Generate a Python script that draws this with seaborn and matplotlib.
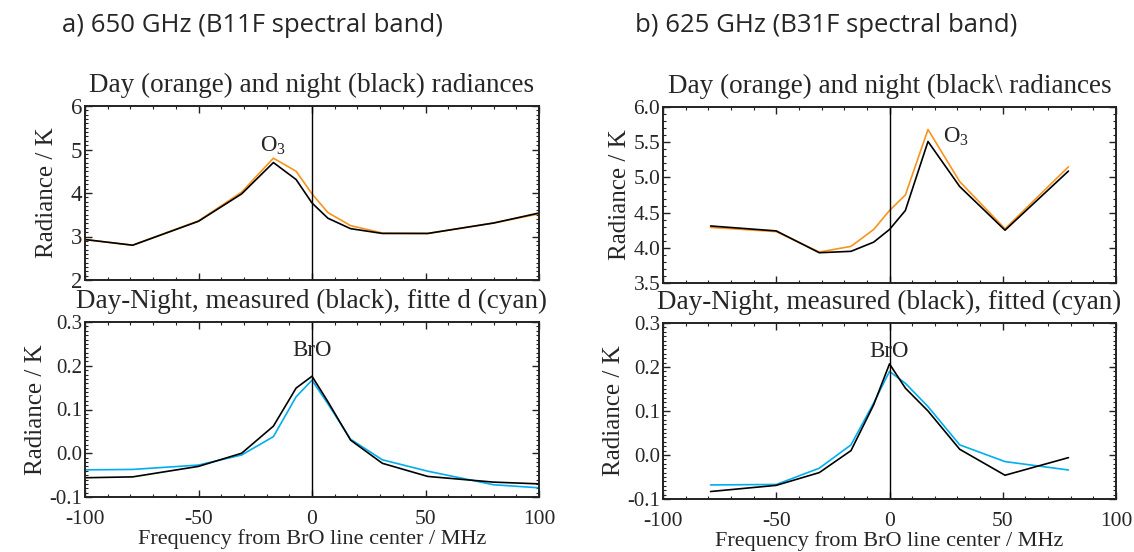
import numpy as np
import pandas as pd
import matplotlib
matplotlib.use("Agg")
import matplotlib.pyplot as plt
import seaborn as sns
from matplotlib.ticker import MultipleLocator, FormatStrFormatter

sns.set_style("ticks")
plt.rcParams['font.family'] = ['Liberation Serif', 'DejaVu Serif']
plt.rcParams['axes.unicode_minus'] = False
plt.rcParams['mathtext.fontset'] = 'custom'
plt.rcParams['mathtext.rm'] = 'Liberation Serif'

# frequency grids (MHz from BrO line centre)
freq_a = [-100, -79, -50, -31, -17, -7, 0, 7, 17, 31, 51, 80, 100]
freq_b = [-79, -50, -31, -17, -7, 0, 7, 17, 31, 51, 79]

# a) 650 GHz, B11F
day_a = [2.93, 2.80, 3.36, 4.02, 4.80, 4.50, 3.98, 3.55, 3.25, 3.08, 3.07, 3.31, 3.52]
night_a = [2.93, 2.80, 3.35, 3.98, 4.70, 4.31, 3.77, 3.42, 3.18, 3.07, 3.07, 3.31, 3.54]
meas_a = [-0.056, -0.054, -0.030, 0.0, 0.062, 0.149, 0.176, 0.118, 0.030, -0.023, -0.053, -0.066, -0.070]
fit_a = [-0.038, -0.037, -0.027, -0.004, 0.038, 0.129, 0.167, 0.113, 0.032, -0.015, -0.041, -0.072, -0.079]

# b) 625 GHz, B31F
day_b = [4.29, 4.23, 3.94, 4.02, 4.26, 4.53, 4.75, 5.68, 4.94, 4.27, 5.15]
night_b = [4.31, 4.24, 3.93, 3.95, 4.08, 4.26, 4.53, 5.51, 4.87, 4.25, 5.09]
meas_b = [-0.083, -0.069, -0.040, 0.010, 0.114, 0.207, 0.152, 0.100, 0.013, -0.046, -0.006]
fit_b = [-0.068, -0.067, -0.030, 0.023, 0.118, 0.190, 0.163, 0.110, 0.023, -0.015, -0.034]

ORANGE = '#f7941d'
CYAN = '#00aeef'

W, H = 1134, 552
fig = plt.figure(figsize=(W / 100, H / 100), dpi=100)


def box(x0, y0, x1, y1):
    return [x0 / W, 1 - y1 / H, (x1 - x0) / W, (y1 - y0) / H]


ax_tl = fig.add_axes(box(85, 106, 539, 280))
ax_bl = fig.add_axes(box(85, 322, 539, 497))
ax_tr = fig.add_axes(box(663, 107, 1116, 283))
ax_br = fig.add_axes(box(663, 323, 1116, 499))


def style(ax, ylim, ymaj, ymin, fmt, ysize, bottom, ypad):
    ax.set_xlim(-100, 100)
    ax.set_ylim(*ylim)
    ax.xaxis.set_major_locator(MultipleLocator(50))
    ax.xaxis.set_minor_locator(MultipleLocator(10))
    ax.yaxis.set_major_locator(MultipleLocator(ymaj))
    ax.yaxis.set_minor_locator(MultipleLocator(ymin))
    ax.yaxis.set_major_formatter(FormatStrFormatter(fmt))
    ax.tick_params(which='both', direction='in', top=True, right=True, color='#222222')
    ax.tick_params(which='major', length=5, width=1.0)
    ax.tick_params(which='minor', length=2.5, width=0.8)
    ax.tick_params(axis='y', labelsize=ysize, pad=2)
    ax.tick_params(axis='x', labelsize=15.5, pad=9)
    for s in ax.spines.values():
        s.set_linewidth(1.4)
        s.set_color('#222222')
    ax.axvline(0, color='black', lw=1.0)
    ax.set_ylabel('Radiance / K', fontsize=18, labelpad=ypad)
    if bottom:
        ax.set_xlabel('Frequency from BrO line center / MHz', fontsize=16, labelpad=0.5)
    else:
        ax.set_xticklabels([])
        ax.set_xlabel('')


def draw(ax, f, y, c):
    df = pd.DataFrame({'freq': f, 'val': y})
    sns.lineplot(data=df, x='freq', y='val', color=c, lw=1.2, ax=ax,
                 sort=False, estimator=None)


draw(ax_tl, freq_a, day_a, ORANGE)
draw(ax_tl, freq_a, night_a, 'black')
draw(ax_bl, freq_a, fit_a, CYAN)
draw(ax_bl, freq_a, meas_a, 'black')
draw(ax_tr, freq_b, day_b, ORANGE)
draw(ax_tr, freq_b, night_b, 'black')
draw(ax_br, freq_b, fit_b, CYAN)
draw(ax_br, freq_b, meas_b, 'black')

style(ax_tl, (2, 6), 1, 0.1, '%d', 16.5, False, 9)
style(ax_bl, (-0.1, 0.3), 0.1, 0.01, '%.1f', 15, True, 2)
style(ax_tr, (3.5, 6.0), 0.5, 0.1, '%.1f', 15.5, False, 2)
style(ax_br, (-0.1, 0.3), 0.1, 0.01, '%.1f', 15, True, 2)

ax_tl.set_title('Day (orange) and night (black) radiances', fontsize=19.5, pad=10)
ax_tr.set_title('Day (orange) and night (black\\ radiances', fontsize=19.5, pad=10)
ax_bl.set_title('Day-Night, measured (black), fitte d (cyan)', fontsize=19.5, pad=10)
ax_br.set_title('Day-Night, measured (black), fitted (cyan)', fontsize=19.5, pad=10)

ax_tl.text(-17, 5.1, r'O$_3$', fontsize=16.5, ha='center', va='center')
ax_tr.text(29.5, 5.58, r'O$_3$', fontsize=16.5, ha='center', va='center')
ax_bl.text(0, 0.234, 'BrO', fontsize=16.5, ha='center', va='center')
ax_br.text(0, 0.235, 'BrO', fontsize=16.5, ha='center', va='center')

fig.text(62 / W, 1 - 26 / H, 'a) 650 GHz (B11F spectral band)', fontsize=18.5,
         family=['Open Sans', 'DejaVu Sans'], ha='left', va='center')
fig.text(635 / W, 1 - 26 / H, 'b) 625 GHz (B31F spectral band)', fontsize=18.5,
         family=['Open Sans', 'DejaVu Sans'], ha='left', va='center')

fig.savefig('out.png', dpi=100)
